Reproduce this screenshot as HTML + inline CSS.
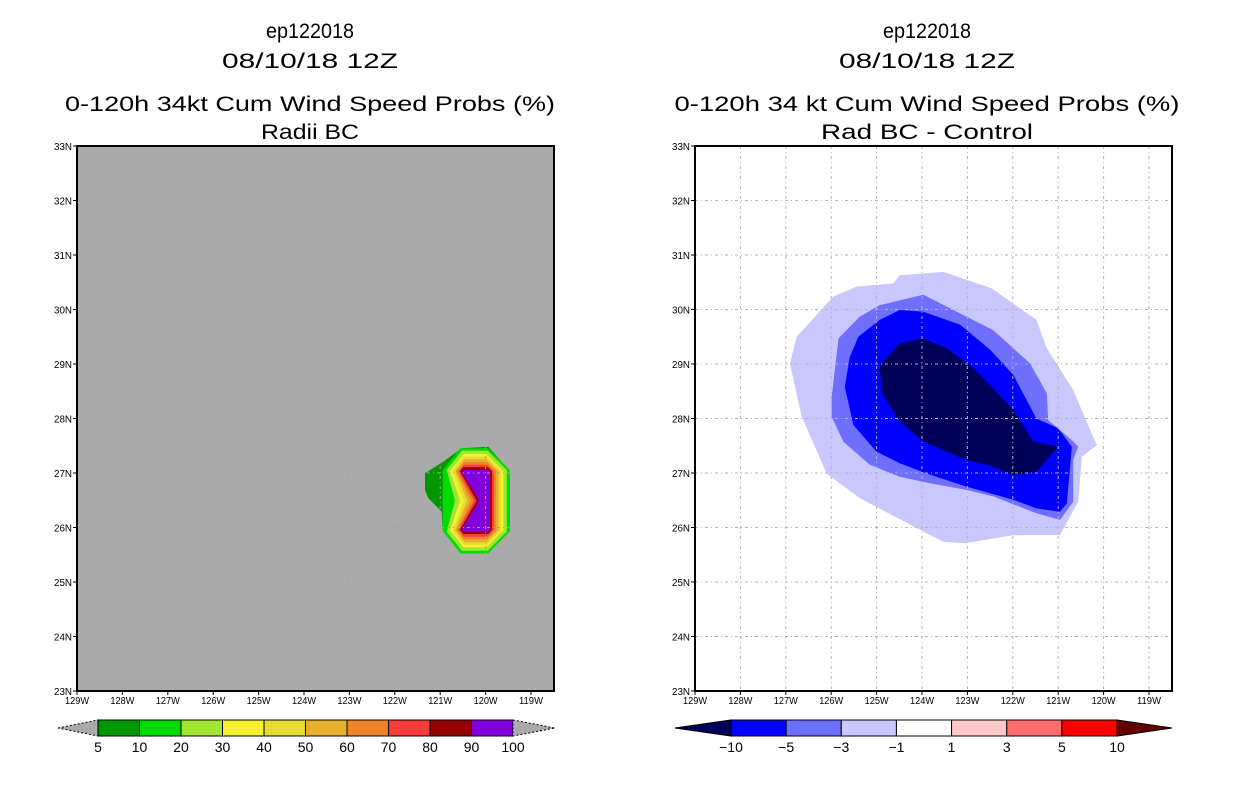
<!DOCTYPE html>
<html><head><meta charset="utf-8"><style>
html,body{margin:0;padding:0;background:#fff;}
svg{display:block;font-family:"Liberation Sans",sans-serif;}
</style></head><body>
<svg id="fig" width="1236" height="800" viewBox="0 0 1236 800"></svg>
<script>
// ---------- data ----------
const lonTicks = [129,128,127,126,125,124,123,122,121,120,119];
const latTicks = [33,32,31,30,29,28,27,26,25,24,23];
// Left panel: probability contour levels (%)
const probLevels = [5,10,20,30,40,50,60,70,80,90,100];
const probColors = ['#009600','#00dc00','#a0e632','#f5f032','#e6dc32','#e6af2d','#f08228','#fa3c3c','#960000','#8200dc'];
// level-5 outline (lon W, lat N)
const lvl5Lon = [121.335,120.931,120.527,119.940,119.462,119.462,119.940,120.527,120.945,120.968,121.261,121.335];
const lvl5Lat = [26.994,27.208,27.453,27.483,27.024,25.954,25.526,25.526,25.954,26.290,26.535,26.688];
// levels 10..90: box edges in degrees
const ringTop    = [27.453,27.410,27.349,27.300,27.251,27.202,27.153,27.104,27.055];
const ringBottom = [25.526,25.575,25.636,25.679,25.728,25.783,25.832,25.881,25.924];
const ringEast   = [119.462,119.536,119.609,119.668,119.719,119.771,119.815,119.859,119.903];
const ringWest   = [120.945,120.857,120.784,120.725,120.674,120.637,120.600,120.564,120.527];
const ringNotch  = [120.945,120.674,120.564,120.476,120.402,120.329,120.255,120.197,120.145];
const notchLat = 26.492;
// Right panel: difference contours
const diffLevels = [-10,-5,-3,-1,1,3,5,10];
const diffColors = ['#00005a','#0000ff','#6e6eff','#c8c8ff','#ffffff','#ffc8c8','#ff6e6e','#ff0000','#640000'];
const dm1Lon = [124.49,123.53,122.47,121.48,121.25,120.67,120.15,120.48,120.56,120.96,121.99,123.05,123.53,124.19,125.37,126.10,126.65,126.91,126.76,125.95,125.44,124.63];
const dm1Lat = [30.63,30.69,30.39,29.81,29.29,28.52,27.51,27.30,26.47,25.86,25.86,25.71,25.74,26.02,26.54,26.99,28.03,29.01,29.50,30.24,30.42,30.48];
const dm3Lon = [124.93,123.97,123.31,122.43,121.62,121.25,121.22,120.67,120.56,120.67,120.67,120.96,121.48,122.43,123.02,123.82,124.49,125.15,125.73,125.99,125.99,125.84,125.37];
const dm3Lat = [30.08,30.27,29.99,29.62,29.01,28.46,27.97,27.58,27.48,27.24,26.47,26.14,26.26,26.57,26.69,26.81,26.93,27.15,27.57,28.03,28.40,29.47,29.87];
const dm5Lon = [124.49,123.97,123.16,122.50,121.99,121.48,121.00,120.70,120.81,120.96,121.48,121.99,123.02,123.90,124.49,125.00,125.51,125.70,125.59,125.40,124.93];
const dm5Lat = [29.99,29.96,29.72,29.26,28.80,28.00,27.82,27.48,26.44,26.29,26.35,26.51,26.75,26.99,27.18,27.39,27.88,28.58,29.13,29.50,29.81];
const dm10Lon = [124.49,123.97,123.46,122.94,122.43,121.99,121.55,121.00,121.48,121.99,122.43,123.02,123.46,123.97,124.49,124.89,124.93];
const dm10Lat = [29.38,29.47,29.29,28.98,28.55,28.16,27.58,27.48,27.02,26.96,27.12,27.24,27.39,27.58,27.94,28.49,28.98];

// ---------- helpers ----------
const NS='http://www.w3.org/2000/svg';
const svg=document.getElementById('fig');
function mk(tag,attrs,parent){const e=document.createElementNS(NS,tag);for(const k in attrs)e.setAttribute(k,attrs[k]);(parent||svg).appendChild(e);return e;}
const PW=477,PH=545,PY=146,DEG_X=45.4,DEG_Y=54.5;
function xs(x0){return lon=>x0+(129-lon)*DEG_X;}
function ys(lat){return PY+(33-lat)*DEG_Y;}
function poly(lons,lats,sx){return lons.map((l,i)=>sx(l).toFixed(1)+','+ys(lats[i]).toFixed(1)).join(' ');}

function titles(cx,lines,g){
  const ys_=[38,68,111,139];
  lines.forEach((t,i)=>{
    const e=mk('text',{x:cx,y:ys_[i],'text-anchor':'middle','font-size':'21',fill:'#000'},g);
    if(t.w){e.setAttribute('textLength',t.w);e.setAttribute('lengthAdjust','spacingAndGlyphs');}
    e.textContent=t.s;
    
    
  });
}
function axes(x0,g,gridColor,gridOpacity){
  const sx=xs(x0);
  const grid=mk('g',{opacity:gridOpacity},g);
  
  
  lonTicks.forEach(l=>{const x=sx(l);if(x>x0+1&&x<x0+PW-1){
    const ln=mk('line',{x1:x,x2:x,y1:PY,y2:PY+PH,stroke:gridColor,'stroke-width':1,'stroke-dasharray':'3,3,1,3'},grid);
    }});
  latTicks.forEach(l=>{const y=ys(l);if(y>PY+1&&y<PY+PH-1){
    const ln=mk('line',{x1:x0,x2:x0+PW,y1:y,y2:y,stroke:gridColor,'stroke-width':1,'stroke-dasharray':'3,3,1,3'},grid);
    }});
  const fr=mk('rect',{x:x0,y:PY,width:PW,height:PH,fill:'none',stroke:'#000','stroke-width':2},g);
  
  latTicks.forEach(l=>{const y=ys(l);
    const t=mk('line',{x1:x0-4,x2:x0,y1:y,y2:y,stroke:'#000','stroke-width':1},g);
    
    const tx=mk('text',{x:x0-5,y:y+4,'text-anchor':'end','font-size':'10',textLength:18,lengthAdjust:'spacingAndGlyphs'},g);
    tx.textContent=l+'N';
    });
  lonTicks.forEach(l=>{const x=sx(l);
    const t=mk('line',{x1:x,x2:x,y1:PY+PH,y2:PY+PH+4,stroke:'#000','stroke-width':1},g);
    
    const tx=mk('text',{x:x,y:PY+PH+13,'text-anchor':'middle','font-size':'10',textLength:24,lengthAdjust:'spacingAndGlyphs'},g);
    tx.textContent=l+'W';
    });
}
function colorbar(g,x1,x2,tipL,tipR,colors,labels,leftTip,rightTip){
  const y1=720,y2=736,ym=728,n=colors.length-(leftTip?1:0)-(rightTip?1:0);
  const w=(x2-x1)/n;
  let ci=0;
  const lt=mk('polygon',{points:`${tipL},${ym} ${x1},${y1} ${x1},${y2}`,fill:leftTip?colors[0]:'#aaaaaa',stroke:'#000','stroke-width':1,'stroke-dasharray':leftTip?'none':'2,2'},g);
  
  if(leftTip)ci=1;
  for(let i=0;i<n;i++){
    const r=mk('rect',{x:x1+i*w,y:y1,width:w,height:y2-y1,fill:colors[ci+i],stroke:'#000','stroke-width':1},g);
    
  }
  const rt=mk('polygon',{points:`${x2},${y1} ${tipR},${ym} ${x2},${y2}`,fill:rightTip?colors[colors.length-1]:'#aaaaaa',stroke:'#000','stroke-width':1,'stroke-dasharray':rightTip?'none':'2,2'},g);
  
  labels.forEach((lb,i)=>{
    const x=x1+i*w;
    const t=mk('text',{x:x,y:752,'text-anchor':'middle','font-size':'14'},g);
    t.textContent=String(lb).replace('-','\u2212');
    
  });
}

// ---------- left panel ----------
const gL=mk('g',{});


titles(310,[{s:'ep122018',n:'storm-id-title',w:88},{s:'08/10/18 12Z',n:'date-title',w:176},{s:'0-120h 34kt Cum Wind Speed Probs (%)',n:'main-title',w:490},{s:'Radii BC',n:'subtitle',w:98}],gL);
const bg=mk('rect',{x:77,y:PY,width:PW,height:PH,fill:'#aaaaaa'},gL);

const sxL=xs(77);
const c5=mk('polygon',{points:poly(lvl5Lon,lvl5Lat,sxL),fill:probColors[0]},gL);

const cornerPx=[22,19,17,14,12,9,7,4,2];
ringTop.forEach((tp,i)=>{
  const xl=sxL(ringWest[i]),xr=sxL(ringEast[i]),yt=ys(tp),yb=ys(ringBottom[i]),xc=sxL(ringNotch[i]),ym=ys(notchLat),d=cornerPx[i];
  const pts=[[xl,yt+d],[xl+d*0.8,yt],[xr-d,yt],[xr,yt+d],[xr,yb-d],[xr-d,yb],[xl+d*0.8,yb],[xl,yb-d],[xc,ym]];
  const p=mk('polygon',{points:pts.map(q=>q[0].toFixed(1)+','+q[1].toFixed(1)).join(' '),fill:probColors[i+1]},gL);
  
  
});
axes(77,gL,'#a4a4a4',1);
colorbar(gL,98,513,58,555,probColors,probLevels,false,false);

// ---------- right panel ----------
const gR=mk('g',{});


titles(927,[{s:'ep122018',n:'storm-id-title',w:88},{s:'08/10/18 12Z',n:'date-title',w:176},{s:'0-120h 34 kt Cum Wind Speed Probs (%)',n:'main-title',w:505},{s:'Rad BC - Control',n:'subtitle',w:212}],gR);
const sxR=xs(695);
[[dm1Lon,dm1Lat,3,'contour-minus-1'],[dm3Lon,dm3Lat,2,'contour-minus-3'],[dm5Lon,dm5Lat,1,'contour-minus-5'],[dm10Lon,dm10Lat,0,'contour-minus-10']].forEach(s=>{
  const p=mk('polygon',{points:poly(s[0],s[1],sxR),fill:diffColors[s[2]]},gR);
  
  
});
axes(695,gR,'#b4b4b4',1);
colorbar(gR,731,1117,675,1172,diffColors,diffLevels,true,true);
</script>
</body></html>
